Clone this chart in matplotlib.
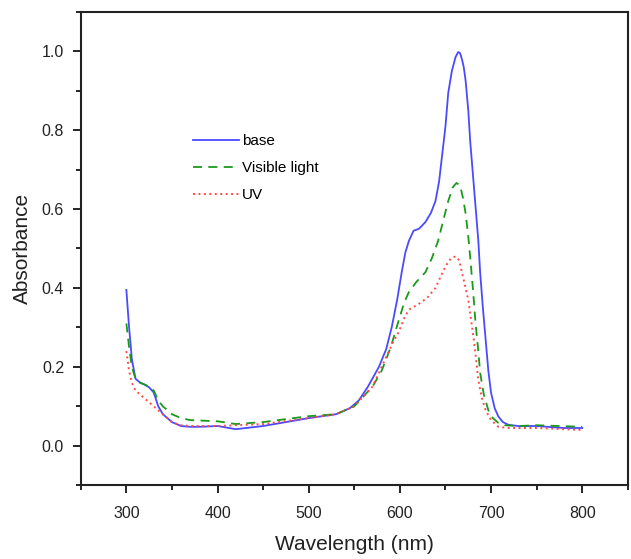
import matplotlib
matplotlib.use("Agg")
import matplotlib.pyplot as plt
from matplotlib.ticker import MultipleLocator, FormatStrFormatter

plt.rcParams['font.family'] = ['Liberation Sans', 'DejaVu Sans']

# wavelengths (nm) and absorbance
wl_base = [300, 303, 306, 310, 315, 320, 325, 330, 335, 340, 350, 360, 370, 380, 400,
           420, 450, 480, 500, 530, 545, 555, 565, 577, 585, 591, 597, 602, 606, 610,
           615, 621, 628, 634, 639, 643, 646, 650, 653, 657, 661, 664, 666, 668, 670,
           672, 675, 677, 680, 683, 686, 688, 691, 694, 697, 700, 704, 708, 713, 719,
           730, 750, 780, 800]
base = [0.395, 0.30, 0.22, 0.17, 0.16, 0.155, 0.148, 0.135, 0.10, 0.08, 0.06, 0.05, 0.048, 0.048, 0.05,
        0.042, 0.05, 0.062, 0.07, 0.08, 0.095, 0.115, 0.15, 0.20, 0.245, 0.30, 0.37, 0.44, 0.49, 0.52,
        0.545, 0.55, 0.567, 0.59, 0.62, 0.67, 0.73, 0.81, 0.894, 0.95, 0.985, 0.998, 0.995, 0.98, 0.96,
        0.927, 0.85, 0.775, 0.69, 0.605, 0.52, 0.44, 0.35, 0.27, 0.19, 0.134, 0.095, 0.074, 0.06, 0.053,
        0.05, 0.05, 0.045, 0.045]

wl_vis = [300, 303, 306, 310, 315, 320, 325, 330, 335, 340, 350, 360, 370, 400, 420,
          450, 500, 530, 550, 570, 580, 590, 599, 605, 610, 618, 628, 635, 642, 648,
          653, 658, 662, 666, 669, 672, 675, 677, 680, 683, 686, 688, 692, 697, 702,
          708, 715, 730, 750, 800]
vis = [0.31, 0.25, 0.20, 0.17, 0.16, 0.155, 0.15, 0.14, 0.115, 0.10, 0.08, 0.07, 0.065, 0.062, 0.055,
       0.06, 0.075, 0.08, 0.10, 0.15, 0.19, 0.25, 0.32, 0.365, 0.39, 0.415, 0.44, 0.475, 0.52, 0.575,
       0.62, 0.655, 0.666, 0.66, 0.63, 0.59, 0.53, 0.48, 0.40, 0.31, 0.24, 0.185, 0.13, 0.09, 0.07,
       0.058, 0.052, 0.05, 0.052, 0.048]

wl_uv = [300, 303, 306, 310, 315, 320, 325, 330, 335, 340, 350, 360, 370, 400, 450,
         500, 530, 550, 570, 584, 592, 599, 605, 610, 621, 630, 639, 645, 650, 656,
         661, 665, 668, 671, 675, 678, 681, 684, 686, 690, 694, 700, 708, 720, 750, 800]
uv = [0.24, 0.19, 0.16, 0.14, 0.13, 0.12, 0.11, 0.10, 0.09, 0.08, 0.06, 0.052, 0.05, 0.05, 0.055,
      0.07, 0.08, 0.10, 0.15, 0.22, 0.26, 0.29, 0.325, 0.345, 0.36, 0.375, 0.40, 0.43, 0.455, 0.475,
      0.48, 0.47, 0.44, 0.41, 0.37, 0.32, 0.27, 0.21, 0.167, 0.12, 0.09, 0.065, 0.048, 0.045, 0.045, 0.04]

fig = plt.figure(figsize=(6.31, 5.59), dpi=100)
ax = fig.add_axes([0.128, 0.132, 0.867, 0.847])

ax.plot(wl_base, base, color='#4a4aff', lw=1.3, ls='-', label='base')
ax.plot(wl_vis, vis, color='#1a9a1a', lw=1.3, ls=(0, (5, 3.5)), label='Visible light')
ax.plot(wl_uv, uv, color='#ff4a4a', lw=1.4, ls=(0, (1, 1.8)), label='UV')

ax.set_xlim(250, 850)
ax.set_ylim(-0.1, 1.1)
ax.xaxis.set_major_locator(MultipleLocator(100))
ax.xaxis.set_minor_locator(MultipleLocator(50))
ax.yaxis.set_major_locator(MultipleLocator(0.2))
ax.yaxis.set_minor_locator(MultipleLocator(0.1))
ax.yaxis.set_major_formatter(FormatStrFormatter('%.1f'))
ax.tick_params(which='both', direction='out', top=False, right=False, labelsize=11.5,
               width=1.2, labelcolor='#222222')
ax.tick_params(which='major', length=6)
ax.tick_params(which='minor', length=3.5)
ax.tick_params(axis='x', which='major', pad=9)
ax.tick_params(axis='y', which='major', pad=6)
for s in ax.spines.values():
    s.set_linewidth(1.5)
    s.set_color('#222222')

ax.set_xlabel('Wavelength (nm)', fontsize=15, color='#222222', labelpad=10)
ax.set_ylabel('Absorbance', fontsize=15, color='#222222', labelpad=7)

ax.legend(loc='upper left', bbox_to_anchor=(0.18, 0.77), frameon=False, fontsize=11,
          handlelength=3.0, handletextpad=0.2, labelspacing=0.85)

fig.savefig('out.png', dpi=100)
